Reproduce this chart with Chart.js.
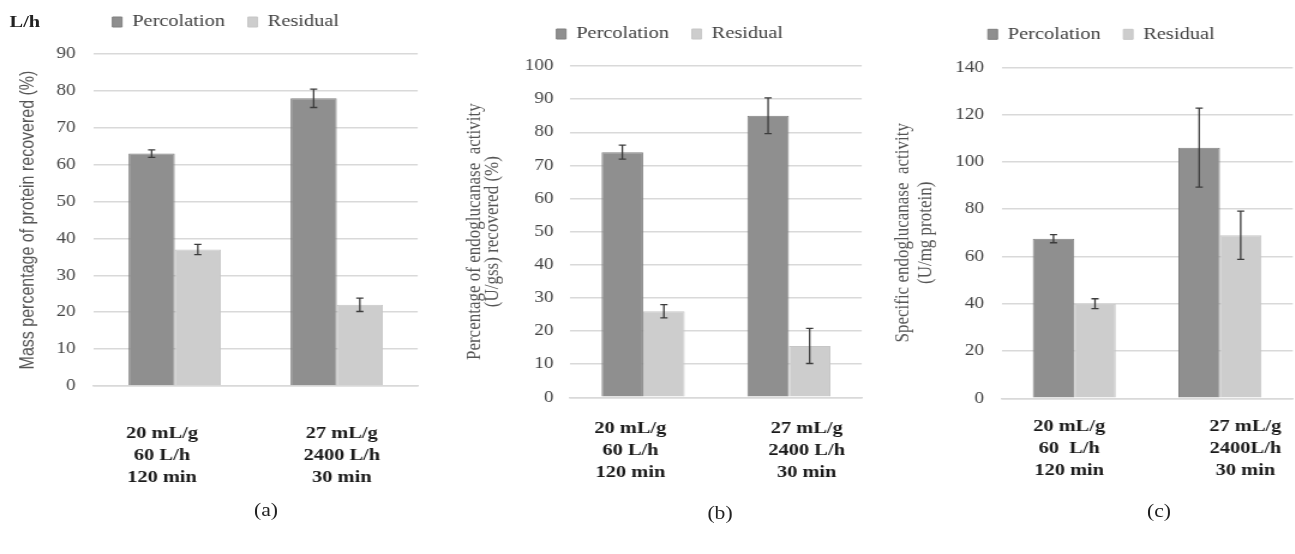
<!DOCTYPE html>
<html>
<head>
<meta charset="utf-8">
<title>Percolation vs residual</title>
<script src="https://cdn.jsdelivr.net/npm/chart.js@4.4.1/dist/chart.umd.min.js"></script>
<style>
  body { margin: 0; background: #fff; overflow: hidden; }
  /* the figure is drawn 1.2x wider than tall, like the original export */
  #stage { position: absolute; left: 0; top: 0; width: 1080px; height: 554px;
           transform: scaleX(1.2); transform-origin: 0 0;
           font-family: "Liberation Serif", "Times New Roman", serif; }
  #stage canvas { position: absolute; top: 0; }
  .cap { position: absolute; transform: translate(-50%, -50%); font-size: 18px; color: #222; white-space: nowrap; }
  .unit { position: absolute; left: 8px; top: 12px; font-size: 17px; font-weight: bold; color: #222; }
</style>
</head>
<body>
<div id="stage">
  <div class="unit">L/h</div>
  <canvas id="chartA"></canvas>
  <canvas id="chartB"></canvas>
  <canvas id="chartC"></canvas>
  <div class="cap" style="left:221.7px; top:510px">(a)</div>
  <div class="cap" style="left:600px; top:513px">(b)</div>
  <div class="cap" style="left:965.8px; top:511px">(c)</div>
</div>
<script>
const series = ['Percolation', 'Residual'];

const conditionsAB = [['20 mL/g', '60 L/h', '120 min'], ['27 mL/g', '2400 L/h', '30 min']];
const conditionsC = [['20 mL/g', '60  L/h', '120 min'], ['27 mL/g', '2400L/h', '30 min']];

// (a) mass percentage of protein recovered (%)
const proteinPerc = [63, 78];
const proteinPercErr = [1, 2.5];
const proteinRes = [37, 22];
const proteinResErr = [1.4, 1.8];

// (b) endoglucanase activity recovered (%)
const activityPerc = [74, 85];
const activityPercErr = [2.1, 5.4];
const activityRes = [26, 15.5];
const activityResErr = [2, 5.3];

// (c) specific endoglucanase activity (U/mg protein)
const specificPerc = [67.5, 106];
const specificPercErr = [1.7, 16.7];
const specificRes = [40, 69];
const specificResErr = [2.1, 10.2];

// y axis ranges
const yMaxA = 90, yStepA = 10;
const yMaxB = 100, yStepB = 10;
const yMaxC = 140, yStepC = 20;

const serif = "'Liberation Serif', 'Times New Roman', serif";
const LEGEND_H = 46; // 17 font + 19 padding + 10

// move the legend row so it sits where we want it
const legendAt = {
  id: 'legendAt',
  afterLayout(chart, args, opts) {
    const lg = chart.legend;
    const lab = lg.options.labels;
    const dx = opts.x - (lg.left + lg.right) / 2;
    const dy = opts.y - (lg.top + lab.padding + Math.max(lab.font.size, lab.boxHeight) / 2);
    lg.left += dx; lg.right += dx;
    lg.top += dy; lg.bottom += dy;
  }
};

// +/- error whiskers on each bar
const errorBars = {
  id: 'errorBars',
  afterDatasetsDraw(chart, args, opts) {
    const ctx = chart.ctx;
    const y = chart.scales.y;
    ctx.save();
    ctx.strokeStyle = opts.color;
    ctx.lineWidth = opts.width;
    chart.data.datasets.forEach((ds, i) => {
      chart.getDatasetMeta(i).data.forEach((bar, j) => {
        const top = y.getPixelForValue(ds.data[j] + ds.errors[j]);
        const bot = y.getPixelForValue(ds.data[j] - ds.errors[j]);
        ctx.beginPath();
        ctx.moveTo(bar.x, top); ctx.lineTo(bar.x, bot);
        ctx.moveTo(bar.x - opts.cap, top); ctx.lineTo(bar.x + opts.cap, top);
        ctx.moveTo(bar.x - opts.cap, bot); ctx.lineTo(bar.x + opts.cap, bot);
        ctx.stroke();
      });
    });
    ctx.restore();
  }
};

// pad lines with spaces to nudge a multi-line label sideways
function nudge(lines, n) {
  return lines.map(s => n < 0 ? s + ' '.repeat(-n) : ' '.repeat(n) + s);
}

function drawPanel(id, p) {
  const canvas = document.getElementById(id);
  const width = Math.ceil(p.right - p.left);
  canvas.width = width;
  canvas.height = 554;
  canvas.style.left = p.left + 'px';

  return new Chart(canvas, {
    type: 'bar',
    data: {
      labels: p.labels.map((l, i) => nudge(l, p.nudge[i])),
      datasets: [{
        label: series[0],
        data: p.perc,
        errors: p.percErr,
        backgroundColor: '#8f8f8f',
        borderColor: '#808080',
        borderWidth: 1
      }, {
        label: series[1],
        data: p.res,
        errors: p.resErr,
        backgroundColor: '#cdcdcd',
        borderColor: '#c6c6c6',
        borderWidth: 1
      }]
    },
    options: {
      responsive: false,
      animation: false,
      layout: { padding: { top: p.top - LEGEND_H, right: width - (p.right - p.left), left: 0, bottom: 0 } },
      datasets: { bar: { categoryPercentage: 0.57, barPercentage: 1 } },
      plugins: {
        legend: {
          labels: { boxWidth: 8, boxHeight: 10, padding: 19, color: '#404040', font: { family: serif, size: 17 } }
        },
        legendAt: { x: p.legendX - p.left, y: p.legendY },
        errorBars: { color: '#3c3c3c', width: 1.3, cap: 3 },
        tooltip: { enabled: false }
      },
      scales: {
        x: {
          grid: { display: false, drawTicks: false },
          border: { color: '#d9d9d9', width: 1.5 },
          ticks: { padding: p.xPad, color: '#1a1a1a', font: { family: serif, size: 17, weight: 'bold', lineHeight: 1.3 } },
          afterFit: s => {
            s.height = 554 - p.bottom;
            // labels may hang over the edges, don't squeeze the plot for them
            s.paddingLeft = 0;
            s.paddingRight = 0;
          }
        },
        y: {
          min: 0,
          max: p.max,
          ticks: { stepSize: p.step, padding: p.yPad, color: '#444', font: { family: serif, size: 16 } },
          grid: { color: '#d9d9d9', lineWidth: 1.5, drawTicks: false },
          border: { display: false },
          title: { display: true, text: p.title, color: '#555', padding: 0, font: p.titleFont },
          afterFit: s => { s.width = p.chartLeft - p.left; }
        }
      }
    },
    plugins: [legendAt, errorBars]
  });
}

drawPanel('chartA', {
  labels: conditionsAB, nudge: [-5, 2],
  perc: proteinPerc, percErr: proteinPercErr, res: proteinRes, resErr: proteinResErr,
  max: yMaxA, step: yStepA,
  title: 'Mass percentage of protein recovered (%)',
  titleFont: { family: "'Liberation Sans', Arial, sans-serif", size: 16, lineHeight: 1 },
  left: 16.2, chartLeft: 78.3, right: 348.3, top: 54, bottom: 386,
  legendX: 188.3, legendY: 22, yPad: 15, xPad: 36.5
});

drawPanel('chartB', {
  labels: conditionsAB, nudge: [-5, 7],
  perc: activityPerc, percErr: activityPercErr, res: activityRes, resErr: activityResErr,
  max: yMaxB, step: yStepB,
  title: ['Percentage of endoglucanase  activity', '(U/gss) recovered (%)'],
  titleFont: { family: serif, size: 17, lineHeight: 0.9 },
  left: 388.2, chartLeft: 475.4, right: 718.3, top: 66, bottom: 397.3,
  legendX: 558.3, legendY: 34, yPad: 14, xPad: 20
});

drawPanel('chartC', {
  labels: conditionsC, nudge: [-2, 10],
  perc: specificPerc, percErr: specificPercErr, res: specificRes, resErr: specificResErr,
  max: yMaxC, step: yStepC,
  title: ['Specific endoglucanase  activity', '(U/mg protein)'],
  titleFont: { family: serif, size: 17, lineHeight: 1.1 },
  left: 743.2, chartLeft: 834.7, right: 1077.5, top: 67.3, bottom: 398.3,
  legendX: 917.9, legendY: 34.3, yPad: 14.5, xPad: 17.2
});
</script>
</body>
</html>
